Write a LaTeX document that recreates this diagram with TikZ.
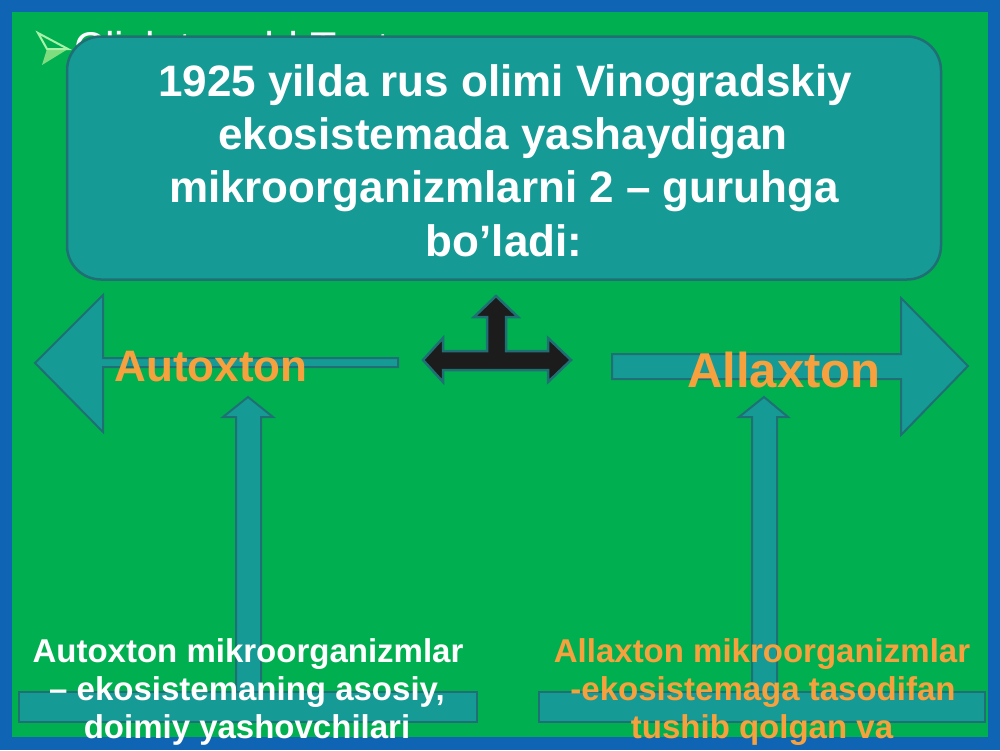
\documentclass[tikz,border=0pt]{standalone}
\usepackage{fontspec}
\setmainfont{Liberation Sans}
\definecolor{bgblue}{HTML}{1064B4}
\definecolor{bggreen}{HTML}{00B050}
\definecolor{tealfill}{HTML}{159A96}
\definecolor{tealline}{HTML}{1F6F74}
\definecolor{orangetxt}{HTML}{F6A13D}
\definecolor{bulletlight}{HTML}{A8F2A8}
\definecolor{bulletgreen}{HTML}{7FDC7F}
\definecolor{blackfill}{HTML}{1C1C1C}
\begin{document}
\begin{tikzpicture}[x=1pt,y=-1pt,
  blockarrow/.style={fill=tealfill, draw=tealline, line width=2pt, line join=miter},
  blackarrow/.style={fill=blackfill, draw=tealline, line width=2.5pt, line join=miter},
  headbox/.style={fill=tealfill, draw=tealline, line width=2.5pt, rounded corners=34pt,
    minimum width=874pt, minimum height=243pt, inner sep=0pt},
  headtxt/.style={text=white, font=\fontsize{44}{53}\selectfont\bfseries, anchor=base, inner sep=0pt},
  labeltxt/.style={text=orangetxt, anchor=base, inner sep=0pt},
  bottxt/.style={font=\fontsize{33}{38}\selectfont\bfseries, anchor=base, inner sep=0pt},
  placetxt/.style={text=white, font=\fontsize{43}{50}\selectfont, anchor=base west, inner sep=0pt}
]
\useasboundingbox (0,0) rectangle (1000,750);
% background
\fill[bgblue] (0,0) rectangle (1000,750);
\fill[bggreen] (12,12) rectangle (988,737);

% bullet and hidden placeholder text
\fill[bulletgreen] (47,49) -- (68,49) -- (42,65) -- cycle;
\draw[bulletlight, line width=2pt, line join=miter] (38,33) -- (68,49) -- (47,49) -- cycle;
\node[placetxt] (place) at (74,62) {Click to add Text};

% header box
\node[headbox] (head) at (504,158) {};
\node[headtxt] (h1) at (505,96) {1925 yilda rus olimi Vinogradskiy};
\node[headtxt] (h2) at (503,149) {ekosistemada yashaydigan};
\node[headtxt] (h3) at (504,202) {mikroorganizmlarni 2 – guruhga};
\node[headtxt] (h4) at (504,256) {bo’ladi:};

% left big arrow
\draw[blockarrow] (35,363) -- (103,295) -- (103,358) -- (398,358) -- (398,367)
  -- (103,367) -- (103,432) -- cycle;
% right big arrow
\draw[blockarrow] (612,354) -- (901,354) -- (901,298) -- (968,366) -- (901,435)
  -- (901,379) -- (612,379) -- cycle;

% black three-way arrow
\draw[blackarrow] (423,360) -- (443,338) -- (443,351) -- (487,351) -- (487,317)
  -- (474,317) -- (496,296) -- (518,317) -- (506,317) -- (506,351) -- (548,351)
  -- (548,338) -- (571,360) -- (548,382) -- (548,370) -- (443,370) -- (443,382) -- cycle;

% small up arrows with bottom bars
\draw[blockarrow] (236,694) -- (236,417) -- (223,417) -- (248,397) -- (273,417)
  -- (261,417) -- (261,694) -- cycle;
\draw[blockarrow] (752,694) -- (752,417) -- (739,417) -- (764,397) -- (788,417)
  -- (777,417) -- (777,694) -- cycle;
\draw[blockarrow] (19,692) rectangle (477,722);
\draw[blockarrow] (539,692) rectangle (985,722);

% labels
\node[labeltxt, font=\fontsize{44}{50}\selectfont\bfseries] (auto) at (211,381) {Autoxton};
\node[labeltxt, font=\fontsize{49}{56}\selectfont\bfseries] (alla) at (784,387) {Allaxton};

% bottom texts
\node[bottxt, text=white] (l1) at (248,662) {Autoxton mikroorganizmlar};
\node[bottxt, text=white] (l2) at (247,700) {– ekosistemaning asosiy,};
\node[bottxt, text=white] (l3) at (247,738) {doimiy yashovchilari};
\node[bottxt, text=orangetxt] (r1) at (762,662) {Allaxton mikroorganizmlar};
\node[bottxt, text=orangetxt] (r2) at (763,700) {-ekosistemaga tasodifan};
\node[bottxt, text=orangetxt] (r3) at (762,738) {tushib qolgan va};
\end{tikzpicture}
\end{document}
